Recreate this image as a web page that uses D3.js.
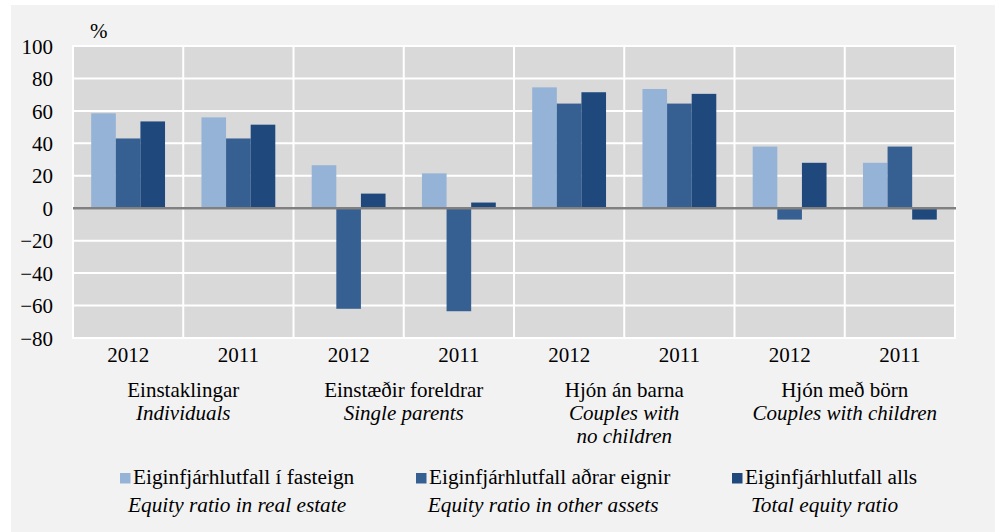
<!DOCTYPE html>
<html>
<head>
<meta charset="utf-8">
<script src="https://cdn.jsdelivr.net/npm/d3@7"></script>
<style>
  html, body { margin: 0; padding: 0; background: #ffffff; }
</style>
</head>
<body>
<svg id="chart" width="1000" height="532"></svg>
<script>
// ---- Data ----
const years = ["2012", "2011", "2012", "2011", "2012", "2011", "2012", "2011"];
const groupNames = ["Einstaklingar", "Einstæðir foreldrar", "Hjón án barna", "Hjón með börn"];
const groupNamesEn = [["Individuals"], ["Single parents"], ["Couples with", "no children"], ["Couples with children"]];
const seriesNames = ["Eiginfjárhlutfall í fasteign", "Eiginfjárhlutfall aðrar eignir", "Eiginfjárhlutfall alls"];
const seriesNamesEn = ["Equity ratio in real estate", "Equity ratio in other assets", "Total equity ratio"];
const realEstate = [58.5, 56, 26.5, 21.5, 74.5, 73.5, 38, 28];
const otherAssets = [43, 43, -62, -63.5, 64.5, 64.5, -7, 38];
const total = [53.5, 51.5, 9, 3.5, 71.5, 70.5, 28, -7];
const yTicks = [-80, -60, -40, -20, 0, 20, 40, 60, 80, 100];

const seriesValues = [realEstate, otherAssets, total];
const colors = ["#95B3D7", "#376092", "#1F497D"];
const FONT = '"Liberation Serif", "Times New Roman", serif';

// ---- Layout ----
const svg = d3.select("#chart");
const plot = { left: 73, right: 955, top: 46, bottom: 338 };

svg.append("rect").attr("x", 11).attr("y", 5).attr("width", 984).attr("height", 527).attr("fill", "#f2f2f2");

const x0 = d3.scaleBand().domain(d3.range(years.length)).range([plot.left, plot.right]).padding(0);
const x1 = d3.scaleBand().domain(d3.range(seriesValues.length)).range([0, x0.bandwidth()]).paddingInner(0).paddingOuter(0.74);
const y = d3.scaleLinear().domain([-80, 100]).range([plot.bottom, plot.top]);

// plot background
svg.append("rect").attr("x", plot.left).attr("y", plot.top)
  .attr("width", plot.right - plot.left).attr("height", plot.bottom - plot.top)
  .attr("fill", "#d9d9d9").attr("stroke", "#ffffff").attr("stroke-width", 2);

// horizontal grid
svg.append("g").selectAll("line").data(yTicks).join("line")
  .attr("x1", plot.left).attr("x2", plot.right)
  .attr("y1", d => y(d)).attr("y2", d => y(d))
  .attr("stroke", "#ffffff").attr("stroke-width", 2);

// vertical grid
svg.append("g").selectAll("line").data(d3.range(years.length + 1)).join("line")
  .attr("x1", i => plot.left + i * x0.step()).attr("x2", i => plot.left + i * x0.step())
  .attr("y1", plot.top).attr("y2", plot.bottom)
  .attr("stroke", "#ffffff").attr("stroke-width", 2);

// bars
const rows = years.map((yr, i) => ({ i, vals: seriesValues.map(s => s[i]) }));
const gBars = svg.append("g");
rows.forEach(r => {
  gBars.append("g").attr("transform", `translate(${x0(r.i)},0)`)
    .selectAll("rect").data(r.vals.map((v, s) => ({ v, s }))).join("rect")
    .attr("x", d => x1(d.s))
    .attr("width", x1.bandwidth())
    .attr("y", d => y(Math.max(0, d.v)))
    .attr("height", d => Math.abs(y(d.v) - y(0)))
    .attr("fill", d => colors[d.s]);
});

// zero line
svg.append("line").attr("x1", plot.left).attr("x2", plot.right + 1)
  .attr("y1", y(0)).attr("y2", y(0))
  .attr("stroke", "#808080").attr("stroke-width", 2.5);

// y axis labels
const yAxis = d3.axisLeft(y).tickValues(yTicks).tickSize(0).tickPadding(0).tickFormat(d3.format("d"));
const gy = svg.append("g").attr("transform", "translate(53,0)").call(yAxis)
  .attr("font-family", FONT).attr("font-size", 21);
gy.select(".domain").remove();
gy.selectAll("text").attr("fill", "#000").attr("dy", "0.34em");

svg.append("text").attr("x", 90).attr("y", 38).attr("font-family", FONT).attr("font-size", 21).text("%");

// x axis year labels
const xAxis = d3.axisBottom(x0).tickSize(0).tickPadding(0).tickFormat(i => years[i]);
const gx = svg.append("g").attr("transform", "translate(0,362)").call(xAxis)
  .attr("font-family", FONT).attr("font-size", 21);
gx.select(".domain").remove();
gx.selectAll("text").attr("fill", "#000").attr("dy", 0);

// group labels
groupNames.forEach((name, g) => {
  const cx = plot.left + (2 * g + 1) * x0.step();
  svg.append("text").attr("x", cx).attr("y", 397).attr("text-anchor", "middle")
    .attr("font-family", FONT).attr("font-size", 21).text(name);
  groupNamesEn[g].forEach((line, k) => {
    svg.append("text").attr("x", cx).attr("y", 420 + k * 23).attr("text-anchor", "middle")
      .attr("font-family", FONT).attr("font-size", 21).attr("font-style", "italic").text(line);
  });
});

// legend
const legendX = [120, 416, 732];
seriesNames.forEach((name, s) => {
  const g = svg.append("g");
  g.append("rect").attr("x", legendX[s]).attr("y", 473).attr("width", 10.5).attr("height", 10.5).attr("fill", colors[s]);
  const t = g.append("text").attr("x", legendX[s] + 13).attr("y", 484)
    .attr("font-family", FONT).attr("font-size", 21.3).text(name);
  const w = t.node().getComputedTextLength();
  const cx = (legendX[s] + legendX[s] + 13 + w) / 2;
  g.append("text").attr("x", cx).attr("y", 512).attr("text-anchor", "middle")
    .attr("font-family", FONT).attr("font-size", 21.3).attr("font-style", "italic").text(seriesNamesEn[s]);
});
</script>
</body>
</html>
